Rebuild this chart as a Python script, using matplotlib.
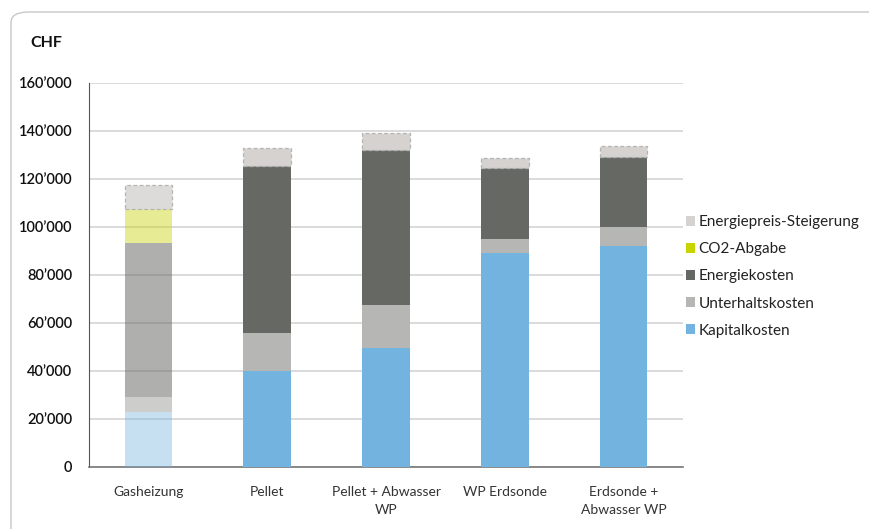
import matplotlib
matplotlib.use("Agg")
import matplotlib.pyplot as plt
from matplotlib.patches import FancyBboxPatch, Patch
from matplotlib.colors import to_rgba
from matplotlib.ticker import FuncFormatter
import numpy as np

plt.rcParams['font.family'] = ['Lato', 'DejaVu Sans']

categories = ["Gasheizung", "Pellet", "Pellet + Abwasser\nWP", "WP Erdsonde", "Erdsonde +\nAbwasser WP"]
series_names = ["Kapitalkosten", "Unterhaltskosten", "Energiekosten", "CO2-Abgabe", "Energiepreis-Steigerung"]
kapitalkosten = [23000, 40000, 49600, 89200, 92100]
unterhaltskosten = [6200, 16000, 17800, 5800, 7800]
energiekosten = [64300, 69400, 64700, 29400, 29100]
co2_abgabe = [14000, 0, 0, 0, 0]
energiepreis_steigerung = [10000, 7400, 6900, 4500, 4700]

values = [kapitalkosten, unterhaltskosten, energiekosten, co2_abgabe, energiepreis_steigerung]
colors = ["#72b3e0", "#b6b6b4", "#666864", "#c8d400", "#d5d2cf"]
# the reference system (first bar) is drawn faded
gas_alpha = [0.4, 0.68, 0.52, 0.42, 0.79]

fig = plt.figure(figsize=(8.69, 5.29), dpi=100)

# rounded card frame
frame = FancyBboxPatch((11 / 869, -0.2), 1.2, 1.2 - 12 / 529,
                       boxstyle="round,pad=0,rounding_size=0.02",
                       transform=fig.transFigure, facecolor="white",
                       edgecolor="#c8c8c8", linewidth=1.0, zorder=-5)
fig.patches.append(frame)

ax = fig.add_axes([89 / 869, 1 - 467 / 529, (683 - 89) / 869, (467 - 83) / 529])
ax.set_facecolor("none")
ax.set_zorder(2)

x = np.arange(len(categories))
width = 0.4
bottom = np.zeros(len(categories))
for i, (name, vals) in enumerate(zip(series_names, values)):
    vals = np.array(vals, dtype=float)
    cols = [to_rgba(colors[i], gas_alpha[i])] + [to_rgba(colors[i])] * (len(categories) - 1)
    if name == "Energiepreis-Steigerung":
        ax.bar(x, vals, width, bottom=bottom, color=cols, edgecolor="#b4b4b4",
               linestyle=(0, (3, 2)), linewidth=0.9, zorder=3, label=name)
    else:
        ax.bar(x, vals, width, bottom=bottom, color=cols, edgecolor="none",
               zorder=3, label=name)
    bottom += vals

ax.set_xlim(-0.5, len(categories) - 0.5)
ax.set_ylim(0, 160000)
ax.set_yticks(np.arange(0, 160001, 20000))
ax.yaxis.set_major_formatter(FuncFormatter(lambda v, p: "0" if v == 0 else f"{int(v/1000)}\u2019000"))
ax.set_xticks(x)
ax.set_xticklabels(categories, fontsize=10, color="#333333", linespacing=1.6, va="top")
ax.tick_params(axis="x", length=0, pad=14)
ax.tick_params(axis="y", length=0, pad=12, labelsize=10.5, labelcolor="#111111")
for lbl in ax.get_yticklabels():
    lbl.set_fontweight("semibold")

ax.grid(axis="y", color="#d4d4d4", linewidth=1.2, zorder=0)
ax.set_axisbelow(True)
for s in ["top", "right"]:
    ax.spines[s].set_visible(False)
ax.spines["left"].set_color("#555555")
ax.spines["bottom"].set_color("#777777")
ax.spines["bottom"].set_linewidth(1.2)

fig.text(30 / 869, 1 - 43 / 529, "CHF", fontsize=11.5, fontweight="bold", va="center", color="#111111")

# legend, reversed order (top-most segment first)
leg_handles = [Patch(facecolor=c, edgecolor="none") for c in colors][::-1]
leg = fig.legend(leg_handles, series_names[::-1], loc="upper left",
                 bbox_to_anchor=(680 / 869, 1 - 209 / 529), frameon=False,
                 fontsize=11, handlelength=0.6, handleheight=0.6, handletextpad=0.2,
                 labelspacing=0.86, borderaxespad=0)
for t in leg.get_texts():
    t.set_color("#222222")

fig.savefig("out.png", dpi=100)
